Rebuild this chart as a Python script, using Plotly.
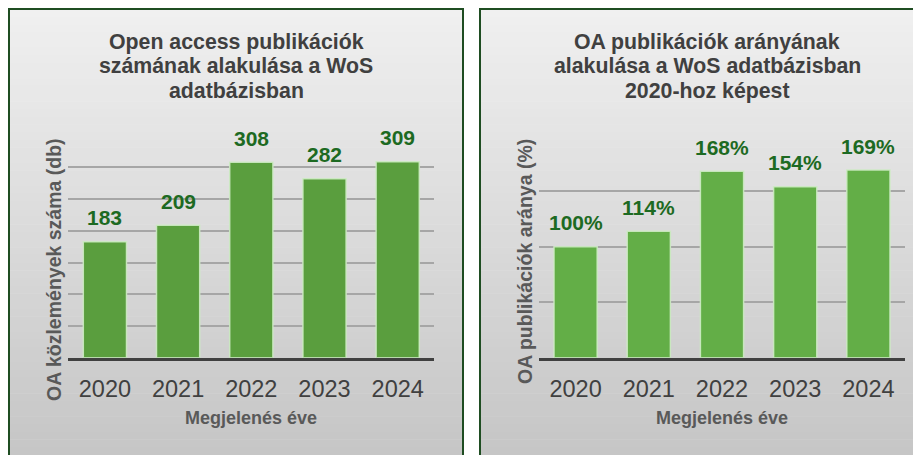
import plotly.graph_objects as go

# ---- data ----
years = ["2020", "2021", "2022", "2023", "2024"]
counts = [183, 209, 308, 282, 309]
ratios = [100, 114, 168, 154, 169]
ratio_labels = ["100%", "114%", "168%", "154%", "169%"]

title_left = ["Open access publikációk", "számának alakulása a WoS", "adatbázisban"]
title_right = ["OA publikációk arányának", "alakulása a WoS adatbázisban", "2020-hoz képest"]
ytitle_left = "OA közlemények száma (db)"
ytitle_right = "OA publikációk aránya (%)"
xtitle = "Megjelenés éve"

# page body has an 8px margin: figure sized so it fits the 921x455 window
OFF = 8
W, H = 921 - OFF, 455 - OFF
FONT = "Arial, Liberation Sans, sans-serif"
LABEL_GREEN = "#1d6a22"


def px(x):
    return (x - OFF) / W


def py(y):
    return 1 - (y - OFF) / H


fig = go.Figure()

fig.add_trace(go.Bar(
    x=years, y=counts, xaxis="x", yaxis="y",
    marker=dict(color="#5a9e3e", line=dict(color="rgba(205,235,195,0.9)", width=1.5)),
    hoverinfo="skip",
))
fig.add_trace(go.Bar(
    x=years, y=ratios, xaxis="x2", yaxis="y2",
    marker=dict(color="#63ae47", line=dict(color="rgba(205,235,195,0.9)", width=1.5)),
    hoverinfo="skip",
))

shapes = []
# panel backgrounds (vertical gradient approximated by bands)
panels = [(9, 463), (480, 934)]
top, bottom = 9, 470
nb = 60
c_top, c_bot = 240, 196
for (x0, x1) in panels:
    for i in range(nb):
        y0 = top + (bottom - top) * i / nb
        y1 = top + (bottom - top) * (i + 1) / nb + 0.5
        c = round(c_top + (c_bot - c_top) * (i + 0.5) / nb)
        shapes.append(dict(type="rect", xref="paper", yref="paper",
                           x0=px(x0), x1=px(x1), y0=py(y1), y1=py(y0),
                           fillcolor=f"rgb({c},{c},{c})", line=dict(width=0), layer="below"))
    shapes.append(dict(type="rect", xref="paper", yref="paper",
                       x0=px(x0), x1=px(x1), y0=py(bottom), y1=py(top),
                       fillcolor="rgba(0,0,0,0)", line=dict(color="#1f4d22", width=2), layer="below"))

annotations = []
# titles
for lines, cx in [(title_left, 236), (title_right, 707)]:
    for i, t in enumerate(lines):
        annotations.append(dict(text=f"<b>{t}</b>", xref="paper", yref="paper", x=px(cx), y=py(42 + 24.5 * i),
                                xanchor="center", yanchor="middle", showarrow=False,
                                font=dict(family=FONT, size=21.3, color="#404040")))
# y titles
for t, cx, cy in [(ytitle_left, 54, 270), (ytitle_right, 525, 262)]:
    annotations.append(dict(text=f"<b>{t}</b>", xref="paper", yref="paper", x=px(cx), y=py(cy),
                            xanchor="center", yanchor="middle", textangle=-90, showarrow=False,
                            font=dict(family=FONT, size=19.5, color="#595959")))
# x titles
for cx in [251, 722]:
    annotations.append(dict(text=f"<b>{xtitle}</b>", xref="paper", yref="paper", x=px(cx), y=py(418),
                            xanchor="center", yanchor="middle", showarrow=False,
                            font=dict(family=FONT, size=18, color="#595959")))
# data labels (category index positions)
for i, v in enumerate(counts):
    annotations.append(dict(text=f"<b>{v}</b>", x=i, y=v, xref="x", yref="y", yshift=24,
                            xanchor="center", yanchor="middle", showarrow=False,
                            font=dict(family=FONT, size=21, color=LABEL_GREEN)))
for i, (v, lab) in enumerate(zip(ratios, ratio_labels)):
    annotations.append(dict(text=f"<b>{lab}</b>", x=i, y=v, xref="x2", yref="y2", yshift=24,
                            xanchor="center", yanchor="middle", showarrow=False,
                            font=dict(family=FONT, size=21, color=LABEL_GREEN)))

ydom = [py(357.7), py(135.7)]
xaxis_common = dict(type="category", range=[-0.5, 4.5], showgrid=False, showline=True,
                    linecolor="#404040", linewidth=3, automargin=False,
                    ticks="", tickfont=dict(family=FONT, size=23.5, color="#404040"),
                    ticklabelstandoff=8, fixedrange=True)
yaxis_common = dict(showticklabels=False, showgrid=True, gridcolor="#a6a6a6", gridwidth=1.5,
                    zeroline=False, showline=False, ticks="", dtick=50, fixedrange=True,
                    automargin=False, domain=ydom)

fig.update_layout(
    width=W, height=H, margin=dict(l=0, r=0, t=0, b=0, autoexpand=False),
    paper_bgcolor="white", plot_bgcolor="rgba(0,0,0,0)",
    showlegend=False, bargap=0.41,
    xaxis=dict(xaxis_common, domain=[px(68.3), px(434.3)], anchor="y"),
    yaxis=dict(yaxis_common, range=[0, 350], anchor="x"),
    xaxis2=dict(xaxis_common, domain=[px(539), min(1.0, px(905))], anchor="y2"),
    yaxis2=dict(yaxis_common, range=[0, 200], anchor="x2"),
    shapes=shapes, annotations=annotations,
)

fig.write_html("out.html")
